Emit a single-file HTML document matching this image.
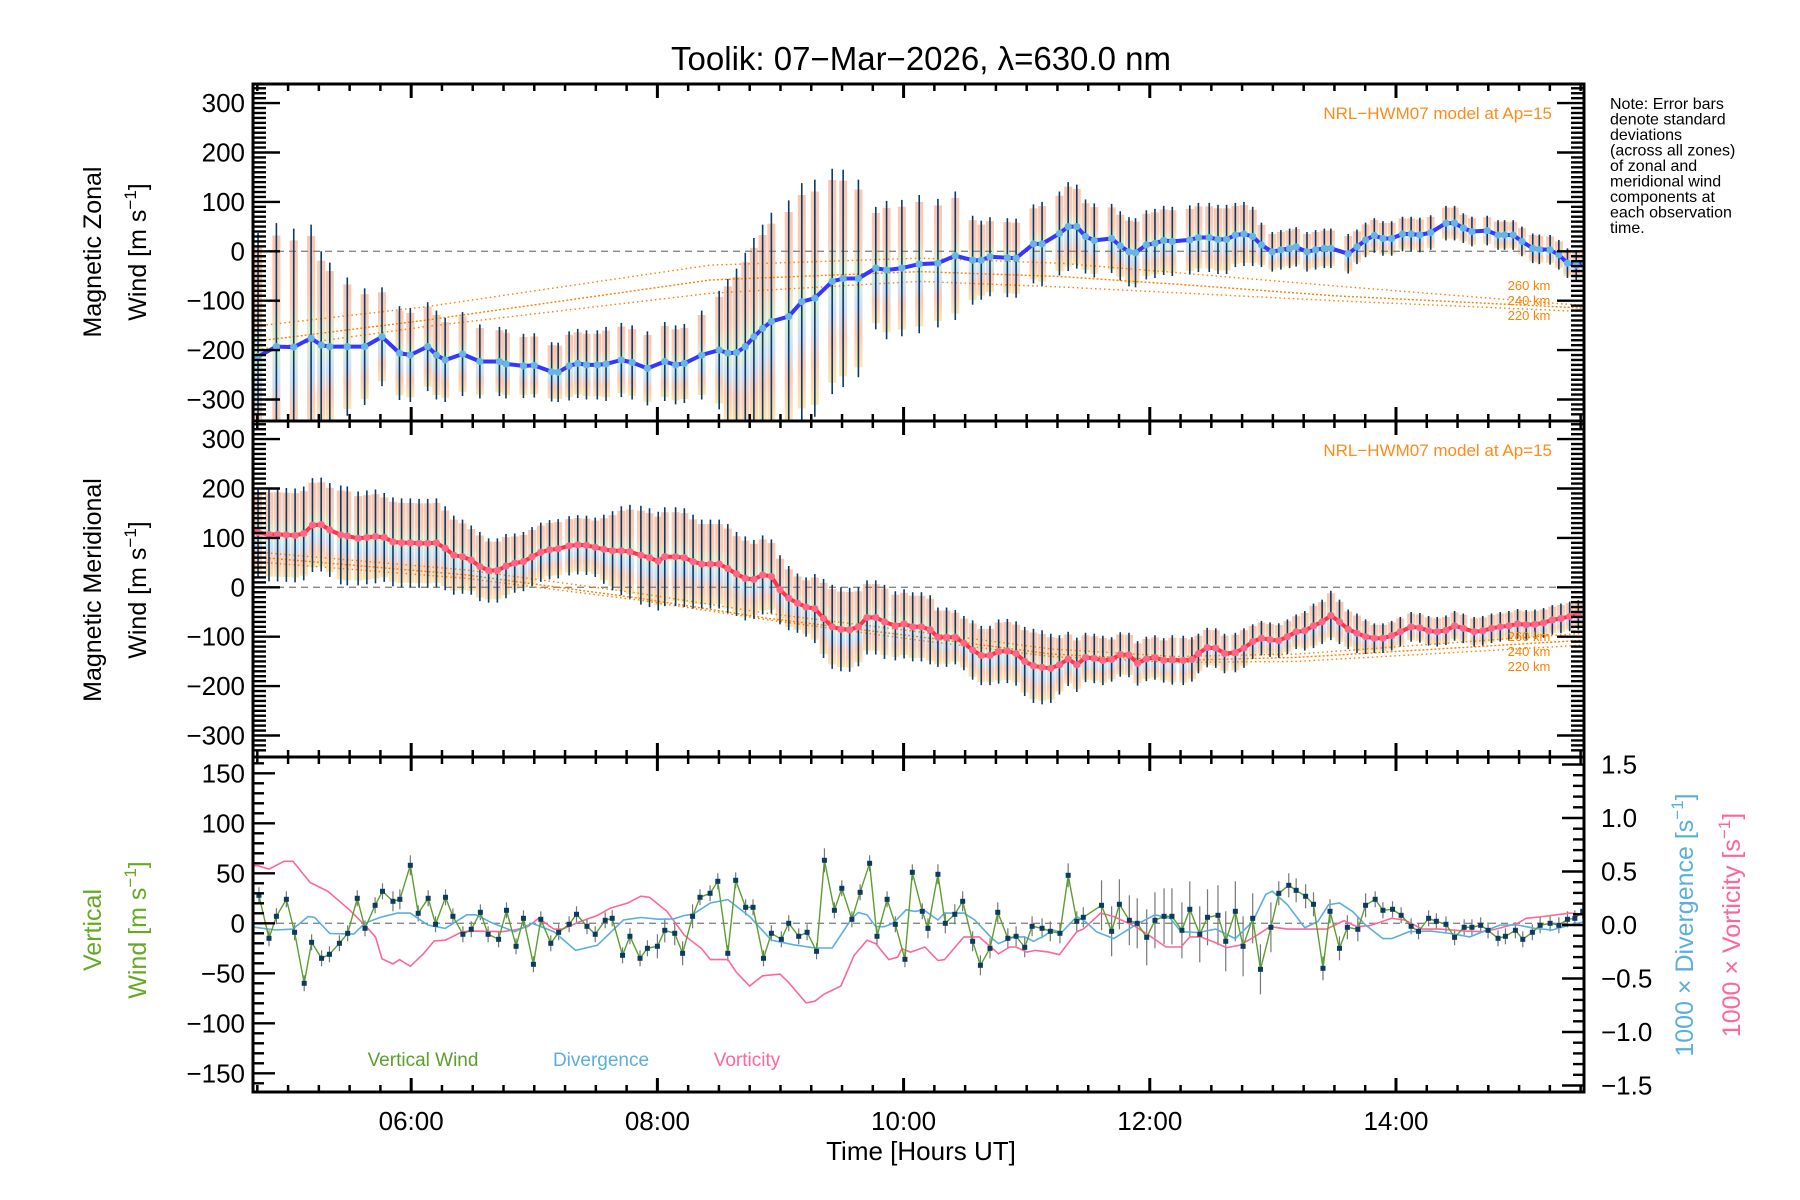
<!DOCTYPE html>
<html><head><meta charset="utf-8"><title>Toolik winds</title>
<style>
html,body{margin:0;padding:0;background:#fff;}
svg{display:block;font-family:"Liberation Sans",sans-serif;}
</style></head>
<body>
<svg id="chart" width="1800" height="1200" viewBox="0 0 1800 1200" xmlns="http://www.w3.org/2000/svg">
<defs>
<clipPath id="c1"><rect x="253" y="84" width="1331" height="337"/></clipPath>
<clipPath id="c2"><rect x="253" y="421" width="1331" height="336"/></clipPath>
<clipPath id="c3"><rect x="253" y="757" width="1331" height="335"/></clipPath>
<linearGradient id="pale" x1="0" y1="0" x2="0" y2="1">
<stop offset="0" stop-color="#f9c0a8"/><stop offset="0.3" stop-color="#fbc8ae"/><stop offset="0.5" stop-color="#d6f0c8"/><stop offset="0.65" stop-color="#c8dcf4"/><stop offset="0.8" stop-color="#fbc4aa"/><stop offset="1" stop-color="#fde2a6"/>
</linearGradient>
</defs>
<rect width="1800" height="1200" fill="#fff"/>
<text x="921" y="70" font-size="33" text-anchor="middle">Toolik: 07−Mar−2026, λ=630.0 nm</text>
<g id="marks"></g>
<g id="axes"></g>
<g font-size="16">
<text x="1610" y="109">Note: Error bars</text>
<text x="1610" y="124.5">denote standard</text>
<text x="1610" y="140">deviations</text>
<text x="1610" y="155.5">(across all zones)</text>
<text x="1610" y="171">of zonal and</text>
<text x="1610" y="186.5">meridional wind</text>
<text x="1610" y="202">components at</text>
<text x="1610" y="217.5">each observation</text>
<text x="1610" y="233">time.</text>
</g>
<text x="1552" y="119" font-size="17" fill="#ff8a1a" text-anchor="end">NRL−HWM07 model at Ap=15</text>
<text x="1552" y="456" font-size="17" fill="#ff8a1a" text-anchor="end">NRL−HWM07 model at Ap=15</text>
<g font-size="13" fill="#ff8000" text-anchor="middle">
<text x="1529" y="290">260 km</text><text x="1529" y="305">240 km</text><text x="1529" y="320">220 km</text></g>
<g font-size="13" fill="#ff8000" text-anchor="middle">
<text x="1529" y="641">260 km</text><text x="1529" y="656">240 km</text><text x="1529" y="671">220 km</text></g>
<text transform="translate(101,252) rotate(-90)" font-size="25" text-anchor="middle">Magnetic Zonal</text>
<text transform="translate(146,252) rotate(-90)" font-size="25" text-anchor="middle">Wind [m s<tspan dy="-10" font-size="17">−1</tspan><tspan dy="10">]</tspan></text>
<text transform="translate(101,590) rotate(-90)" font-size="25" text-anchor="middle">Magnetic Meridional</text>
<text transform="translate(146,590) rotate(-90)" font-size="25" text-anchor="middle">Wind [m s<tspan dy="-10" font-size="17">−1</tspan><tspan dy="10">]</tspan></text>
<text transform="translate(101,930) rotate(-90)" font-size="25" fill="#66aa22" text-anchor="middle">Vertical</text>
<text transform="translate(146,930) rotate(-90)" font-size="25" fill="#66aa22" text-anchor="middle">Wind [m s<tspan dy="-10" font-size="17">−1</tspan><tspan dy="10">]</tspan></text>
<text transform="translate(1693,925) rotate(-90)" font-size="25" fill="#5aafdf" text-anchor="middle">1000 × Divergence [s<tspan dy="-10" font-size="17">−1</tspan><tspan dy="10">]</tspan></text>
<text transform="translate(1740,925) rotate(-90)" font-size="25" fill="#ff6699" text-anchor="middle">1000 × Vorticity [s<tspan dy="-10" font-size="17">−1</tspan><tspan dy="10">]</tspan></text>
<text x="423" y="1066" font-size="19" fill="#5aa02c" text-anchor="middle">Vertical Wind</text>
<text x="601" y="1066" font-size="19" fill="#5aafdf" text-anchor="middle">Divergence</text>
<text x="747" y="1066" font-size="19" fill="#ff6699" text-anchor="middle">Vorticity</text>
<text x="921" y="1160" font-size="26" text-anchor="middle">Time [Hours UT]</text>
</svg>
<script>
// ---------------- data ----------------
const zonT = [4.686,4.756,4.905,5.046,5.187,5.269,5.339,5.481,5.622,5.763,5.905,5.993,6.134,6.205,6.276,6.417,6.558,6.717,6.770,6.912,7.0,7.141,7.194,7.283,7.353,7.424,7.512,7.583,7.707,7.795,7.919,8.060,8.148,8.219,8.360,8.502,8.572,8.643,8.714,8.784,8.855,8.926,9.067,9.173,9.279,9.420,9.509,9.633,9.774,9.862,9.986,10.127,
10.279,10.420,10.561,10.631,10.702,10.843,10.914,11.055,11.125,11.266,11.337,11.407,11.478,11.549,11.690,11.760,11.831,11.884,11.972,12.042,12.113,12.183,12.325,12.395,12.483,12.554,12.624,12.695,12.765,12.836,12.907,12.995,13.065,13.136,13.189,13.277,13.347,13.418,13.471,13.612,13.683,13.753,13.824,13.894,13.965,14.053,14.123,14.194,14.282,14.406,14.476,14.547,14.617,14.741,14.829,14.882,14.952,15.023,15.111,15.164,15.252,15.323,15.393,15.464,15.534];
const zonV = [-212,-213,-193,-194,-176,-190,-193,-193,-193,-173,-206,-210,-193,-210,-220,-208,-223,-223,-228,-232,-231,-244,-245,-232,-227,-230,-230,-228,-220,-225,-237,-223,-230,-227,-210,-200,-206,-205,-193,-173,-156,-142,-132,-102,-95,-61,-55,-55,-34,-38,-34,-26,
-24,-9,-18,-18,-11,-13,-14,15,15,36,50,50,30,22,26,11,-1,-3,13,16,22,20,23,28,28,24,24,33,35,30,13,-1,3,6,9,-1,3,6,6,-5,9,23,32,26,26,35,35,33,38,57,57,47,40,42,33,33,33,20,6,4,3,-7,-24,-28,-23];
const zonSig = [250,250,250,240,230,190,170,140,118,100,95,95,90,90,85,85,75,70,70,65,65,60,60,70,70,70,70,75,75,75,75,80,80,80,90,120,150,170,190,200,210,220,235,240,240,228,220,200,124,140,138,140,
130,130,90,80,80,80,80,80,85,85,90,85,75,75,70,70,70,70,70,70,70,70,70,70,70,70,70,65,65,60,45,40,40,40,40,40,40,40,40,40,35,35,35,35,35,35,35,35,35,35,35,30,30,30,30,30,30,30,30,30,30,30,30,30,30];

const merT = [4.686,4.756,4.845,4.915,4.986,5.057,5.127,5.198,5.269,5.339,5.428,5.481,5.569,5.640,5.710,5.781,5.852,5.922,5.993,6.064,6.134,6.205,6.276,6.346,6.417,6.488,6.558,6.629,6.700,6.770,6.841,6.912,6.982,7.053,7.124,7.194,7.283,7.353,7.424,7.495,7.565,7.636,7.707,7.777,7.866,7.936,8.007,8.060,8.148,8.219,8.290,8.360,8.431,8.502,8.572,8.643,8.714,8.784,8.855,8.926,8.996,9.067,9.138,9.208,9.279,9.350,9.420,9.491,9.562,9.633,9.703,9.774,9.845,9.933,10.004,10.074,10.145,10.216,
10.279,10.349,10.420,10.490,10.561,10.631,10.702,10.772,10.843,10.914,10.984,11.055,11.125,11.196,11.266,11.337,11.407,11.478,11.549,11.619,11.690,11.760,11.831,11.901,11.972,12.042,12.113,12.183,12.272,12.342,12.395,12.466,12.536,12.607,12.695,12.765,12.836,12.907,12.977,13.048,13.118,13.189,13.259,13.330,13.400,13.471,13.541,13.612,13.683,13.753,13.824,13.894,13.965,14.035,14.123,14.194,14.265,14.335,14.406,14.476,14.547,14.635,14.705,14.776,14.847,14.917,14.988,15.058,15.129,15.199,15.270,15.340,15.411,15.481];
const merV = [116,111,107,107,106,105,109,126,127,116,106,104,99,101,103,101,92,90,90,89,89,90,79,65,62,55,42,34,34,43,49,52,62,71,76,78,84,86,85,81,77,74,74,72,65,60,53,62,62,60,52,47,47,47,38,27,18,16,25,22,-5,-22,-32,-40,-43,-63,-80,-85,-86,-80,-61,-61,-70,-78,-74,-80,-80,-86,
-101,-101,-101,-113,-127,-138,-138,-130,-129,-134,-150,-159,-162,-164,-157,-145,-157,-142,-144,-148,-146,-136,-137,-154,-145,-142,-148,-147,-148,-146,-134,-122,-123,-134,-132,-123,-110,-103,-106,-108,-100,-90,-88,-78,-70,-57,-70,-85,-93,-100,-103,-103,-98,-90,-80,-82,-88,-90,-87,-78,-83,-90,-88,-83,-80,-78,-74,-76,-75,-72,-66,-63,-59,-56];
const merSig = [90,90,95,95,95,95,95,95,95,95,100,100,95,95,95,90,90,90,90,90,90,90,
85,80,75,70,70,65,65,65,60,60,60,60,60,
60,60,60,60,60,70,80,90,95,100,100,100,100,100,100,95,90,90,90,90,85,85,80,80,75,
70,65,60,60,70,80,85,85,85,80,75,75,75,70,70,70,70,70,
60,60,55,55,60,60,60,65,65,65,70,75,75,70,60,55,55,50,50,50,45,45,45,45,45,45,45,50,50,45,
40,40,40,40,40,40,35,35,35,35,35,35,40,45,45,50,45,40,40,35,
30,30,30,30,30,30,30,30,30,30,30,30,30,30,30,30,30,30,30,30,30,30,30,30];

// HWM07 model curves (m/s)
const modZT = [4.715,6.13,8.43,10.13,11.27,12.3,13.5,15.53];
const modZ260 = [-152,-112,-28,-14,-24,-45,-70,-110];
const modZ240 = [-183,-139,-58,-41,-51,-68,-90,-115];
const modZ220 = [-200,-152,-85,-61,-72,-85,-100,-122];
const modMT = [4.715,6.45,7.85,8.9,10.12,11.2,12.2,13.2,15.53];
const modM260 = [72,35,-12,-53,-90,-125,-140,-135,-93];
const modM240 = [62,25,-22,-63,-100,-135,-148,-142,-107];
const modM220 = [52,18,-26,-66,-107,-140,-152,-150,-117];

const vertT = [4.763,4.845,4.905,4.986,5.053,5.131,5.191,5.272,5.336,5.417,5.484,5.562,5.625,5.707,5.767,5.852,5.908,5.993,6.057,6.138,6.198,6.279,6.339,6.420,6.488,6.562,6.625,6.710,6.774,6.852,6.912,6.993,7.053,7.134,7.198,7.283,7.343,7.428,7.495,7.576,7.633,7.717,7.777,7.859,7.919,8.000,8.060,8.141,8.205,8.286,8.346,8.428,8.491,8.572,8.636,8.717,8.777,8.862,8.926,9.007,9.067,9.148,9.216,9.293,9.357,9.438,9.498,9.580,9.647,9.724,9.784,9.866,9.933,10.011,10.071,10.152,
10.198,10.279,10.339,10.416,10.480,10.561,10.624,10.702,10.765,10.847,10.914,10.984,11.044,11.125,11.192,11.270,11.337,11.407,11.460,11.608,11.690,11.753,11.834,11.898,11.975,12.042,12.116,12.180,12.261,12.325,12.406,12.469,12.554,12.617,12.695,12.758,12.836,12.899,12.984,13.048,13.129,13.189,13.266,13.330,13.407,13.464,13.541,13.605,13.690,13.753,13.831,13.894,13.972,14.042,14.123,14.183,14.265,14.328,14.406,14.476,14.554,14.617,14.688,14.748,14.829,14.889,14.970,15.030,15.108,15.171,15.252,15.323,15.393,15.453,15.517];
const vertV = [28,-15,7,24,-9,-60,-19,-35,-31,-20,-10,25,-5,18,32,22,24,58,10,25,-1,26,7,-11,-6,11,-11,-16,13,-23,5,-41,4,-20,-9,-1,9,-3,-11,3,5,-32,-13,-35,-25,-23,-7,-10,-30,7,26,30,42,-30,43,16,16,-35,-10,-16,0,-13,-9,-28,63,13,35,4,31,60,-13,24,-1,-36,51,12,
-5,49,0,9,22,-18,-42,-25,11,-15,-13,-24,-3,-5,-8,-10,48,2,6,18,-8,19,3,0,-14,3,7,7,-7,14,-11,6,8,-18,12,-23,5,-46,-4,30,38,33,27,19,-45,12,-25,-4,-6,18,24,13,14,8,-3,-8,5,2,-1,-14,-4,-4,-2,-7,-15,-13,-7,-16,-9,-2,0,-2,4,5,12];
const vertErr = [8,8,8,8,8,8,8,8,8,8,8,8,8,8,8,10,10,10,8,8,8,8,8,8,8,8,8,8,8,8,8,8,8,8,8,8,8,8,8,8,8,8,8,8,8,12,12,12,12,12,8,8,8,8,8,8,8,8,8,8,8,8,8,8,12,8,8,8,8,8,8,8,8,8,8,8,
10,10,10,10,10,10,10,10,10,10,10,10,10,10,10,10,12,10,10,25,25,25,25,25,28,28,28,28,28,28,28,28,30,30,30,30,25,25,25,12,12,12,12,12,12,12,12,12,12,12,8,8,8,8,8,8,8,8,8,8,8,8,8,8,8,8,8,8,8,8,8,8,8,8,8];

// 1000 x divergence and vorticity (s^-1)
const divT = [4.686,4.756,4.898,5.039,5.163,5.216,5.339,5.534,5.622,5.746,5.887,5.993,6.134,6.276,6.452,6.523,6.664,6.841,6.982,7.159,7.336,7.512,7.724,7.866,8.007,8.131,8.219,8.290,8.431,8.572,8.749,8.926,9.102,9.279,9.420,9.580,9.633,9.703,9.774,9.845,9.915,10.021,10.092,10.163,
10.279,10.332,10.490,10.578,10.720,10.772,10.896,10.984,11.055,11.143,11.213,11.284,11.407,11.478,11.566,11.707,11.884,12.042,12.166,12.254,12.395,12.536,12.695,12.836,12.942,12.995,13.118,13.259,13.365,13.453,13.541,13.647,13.753,13.894,13.965,14.106,14.282,14.441,14.600,14.705,14.847,14.988,15.129,15.270,15.411,15.534];
const divV = [-0.016,-0.025,-0.047,-0.038,0.079,0.070,-0.079,-0.085,0.016,0.070,0.111,0.111,0,-0.032,0.095,0.095,0.016,-0.063,0.016,-0.063,-0.237,-0.190,0.047,0.070,0.054,0.057,0.089,0.101,0.206,0.237,0.079,-0.142,-0.184,-0.215,-0.215,0.063,0.117,0.095,-0.016,-0.016,0.016,0.142,0.127,0.142,
0.047,0.111,0.111,0.047,-0.127,-0.174,-0.111,-0.111,-0.152,-0.101,-0.047,-0.070,0.079,0.032,-0.063,-0.127,0,0.095,0.063,-0.063,-0.070,-0.038,-0.127,0.032,0.285,0.316,0.190,-0.025,0.032,0.190,0.206,0.127,0,-0.127,-0.127,-0.063,-0.057,-0.079,-0.111,-0.063,0,0,-0.032,-0.047,0,0.032];
const vorT = [4.686,4.756,4.845,4.968,5.039,5.180,5.322,5.498,5.622,5.710,5.763,5.852,5.905,5.993,6.099,6.187,6.276,6.417,6.523,6.735,6.841,6.947,7.035,7.159,7.230,7.371,7.512,7.618,7.760,7.866,7.936,8.078,8.219,8.360,8.431,8.572,8.643,8.749,8.855,8.996,9.067,9.208,9.279,9.350,9.491,9.597,9.703,9.774,9.880,9.951,9.986,10.057,
10.173,10.279,10.332,10.490,10.614,10.772,10.861,10.914,11.002,11.072,11.178,11.266,11.407,11.460,11.601,11.707,11.884,11.972,12.131,12.254,12.325,12.413,12.519,12.624,12.730,12.871,12.977,13.118,13.436,13.577,13.683,13.788,13.965,14.071,14.212,14.353,14.564,14.705,14.811,14.988,15.058,15.199,15.411,15.534];
const vorV = [0.554,0.554,0.522,0.595,0.595,0.396,0.316,0.142,0,-0.111,-0.316,-0.364,-0.323,-0.386,-0.269,-0.149,-0.142,-0.063,-0.057,-0.063,-0.047,-0.016,0.063,-0.038,-0.038,0.032,0.089,0.158,0.206,0.269,0.259,0.127,-0.095,-0.222,-0.323,-0.323,-0.443,-0.570,-0.475,-0.459,-0.538,-0.728,-0.712,-0.649,-0.570,-0.285,-0.142,-0.174,-0.323,-0.301,-0.222,-0.253,
-0.206,-0.332,-0.323,-0.111,-0.111,-0.269,-0.206,-0.206,-0.253,-0.237,-0.253,-0.278,-0.063,-0.038,0.111,0.079,-0.016,-0.079,-0.206,-0.206,-0.111,-0.111,-0.158,-0.212,-0.190,-0.095,-0.016,-0.038,-0.038,0.041,-0.016,-0.006,0.063,0.047,-0.038,-0.038,-0.057,-0.063,-0.038,0.016,0.063,0.079,0.111,0.101];

const yTicks12 = [300,200,100,0,-100,-200,-300];
const yTicks3 = [150,100,50,0,-50,-100,-150];
const rTicks3 = [1.5,1.0,0.5,0.0,-0.5,-1.0,-1.5];
const xTickHours = [6,8,10,12,14];
const xTickLabels = ['06:00','08:00','10:00','12:00','14:00'];

// ---------------- scales ----------------
const X0 = 253, X1 = 1584, H0 = 4.715, PXH = 123.1;
function xs(h){ return X0 + (h - H0) * PXH; }
function y1(v){ return 251.3 - 0.494 * v; }
function y2(v){ return 587.3 - 0.494 * v; }
function y3(v){ return 923.3 - 1.0 * v; }
function y3r(r){ return 925 - 107 * r; }
const P = [{top:84,bot:421},{top:421,bot:757},{top:757,bot:1092}];

const NS = 'http://www.w3.org/2000/svg';
function mk(tag, attrs, parent){
  const e = document.createElementNS(NS, tag);
  for (const k in attrs) e.setAttribute(k, attrs[k]);
  parent.appendChild(e);
  return e;
}
const marks = document.getElementById('marks');
const axes = document.getElementById('axes');

function path(ts, vs, yf){
  let d = '';
  for (let i = 0; i < ts.length; i++) d += (i ? 'L' : 'M') + xs(ts[i]).toFixed(1) + ' ' + yf(vs[i]).toFixed(1);
  return d;
}

// ---------------- wind panels ----------------
function windPanel(clip, ts, vs, sig, yf, lineCol, dotCol, mT, m260, m240, m220, key){
  const g = mk('g', {'clip-path': 'url(#' + clip + ')'}, marks);
  
  
  for (let i = 0; i < ts.length; i++) {
    const r = mk('rect', {x: xs(ts[i]) - 4, y: yf(vs[i] + sig[i] * 0.9), width: 8, height: Math.abs(yf(vs[i] - sig[i] * 0.9) - yf(vs[i] + sig[i] * 0.9)), fill: 'url(#pale)', opacity: 0.9}, g);
    
    
  }
  const zl = mk('line', {x1: X0, x2: X1, y1: yf(0), y2: yf(0), stroke: '#888', 'stroke-width': 1.3, 'stroke-dasharray': '7,5'}, g);
  
  
  const mods = [m260, m240, m220];
  const names = ['260', '240', '220'];
  for (let k = 0; k < 3; k++) {
    const m = mk('path', {d: path(mT, mods[k], yf), fill: 'none', stroke: '#ff8000', 'stroke-width': 1.4, 'stroke-dasharray': k === 1 ? '2,2' : '1.5,3'}, g);
    
    
  }
  for (let i = 0; i < ts.length; i++) {
    const e = mk('line', {x1: xs(ts[i]), x2: xs(ts[i]), y1: yf(vs[i] + sig[i]), y2: yf(vs[i] - sig[i]), stroke: '#0a3a66', 'stroke-width': 1.6}, g);
    
    
  }
  const ln = mk('path', {d: path(ts, vs, yf), fill: 'none', stroke: lineCol, 'stroke-width': 4, 'stroke-linejoin': 'round'}, g);
  
  
  for (let i = 0; i < ts.length; i++) {
    const c = mk('circle', {cx: xs(ts[i]), cy: yf(vs[i]), r: 3.6, fill: dotCol}, g);
    
    
  }
}
windPanel('c1', zonT, zonV, zonSig, y1, '#3438ff', '#68b4e4', modZT, modZ260, modZ240, modZ220, 'zonal');
windPanel('c2', merT, merV, merSig, y2, '#ff3344', '#ff6688', modMT, modM260, modM240, modM220, 'meridional');

// ---------------- vertical panel ----------------
const g3 = mk('g', {'clip-path': 'url(#c3)'}, marks);


const z3 = mk('line', {x1: X0, x2: X1, y1: y3(0), y2: y3(0), stroke: '#888', 'stroke-width': 1.3, 'stroke-dasharray': '7,5'}, g3);


for (let i = 0; i < vertT.length; i++) {
  const e = mk('line', {x1: xs(vertT[i]), x2: xs(vertT[i]), y1: y3(vertV[i] + vertErr[i]), y2: y3(vertV[i] - vertErr[i]), stroke: '#777', 'stroke-width': 1.2}, g3);
  
  
}
const vd = mk('path', {d: path(vorT, vorV, y3r), fill: 'none', stroke: '#ff6699', 'stroke-width': 1.6}, g3);


const dd = mk('path', {d: path(divT, divV, y3r), fill: 'none', stroke: '#5aafdf', 'stroke-width': 1.6}, g3);


const vl = mk('path', {d: path(vertT, vertV, y3), fill: 'none', stroke: '#5aa02c', 'stroke-width': 1.4}, g3);


for (let i = 0; i < vertT.length; i++) {
  const s = mk('rect', {x: xs(vertT[i]) - 2.5, y: y3(vertV[i]) - 2.5, width: 5, height: 5, fill: '#0b3b60'}, g3);
  
  
}

// ---------------- axes ----------------
function tickLine(x1, y1_, x2, y2_, w, name){
  const t = mk('line', {x1: x1, y1: y1_, x2: x2, y2: y2_, stroke: '#000', 'stroke-width': w}, axes);
  
  
}
function label(x, y, txt, anchor, size, name){
  const t = mk('text', {x: x, y: y, 'text-anchor': anchor, 'font-size': size}, axes);
  t.textContent = txt;
  
  
}
for (let p = 0; p < 3; p++) {
  const b = mk('rect', {x: X0, y: P[p].top, width: X1 - X0, height: P[p].bot - P[p].top, fill: 'none', stroke: '#000', 'stroke-width': 3}, axes);
  
  
  for (let h = 4.75; h <= 15.5; h += 0.25) {
    const x = xs(h);
    if (x < X0 || x > X1) continue;
    const maj = Math.abs(h - Math.round(h)) < 1e-6 && Math.round(h) % 2 === 0;
    const L = maj ? 14 : 7;
    tickLine(x, P[p].bot, x, P[p].bot - L, maj ? 3 : 2.5, 'x-tick');
    tickLine(x, P[p].top, x, P[p].top + L, maj ? 3 : 2.5, 'x-tick');
  }
}
[[y1, 0], [y2, 1]].forEach(function(pp){
  const yf = pp[0], p = pp[1];
  for (let v = -340; v <= 340; v += 10) {
    const y = yf(v);
    if (y < P[p].top + 2 || y > P[p].bot - 2) continue;
    const maj = v % 100 === 0;
    const L = maj ? 27 : 13;
    tickLine(X0, y, X0 + L, y, 2.4, 'y-tick');
    tickLine(X1, y, X1 - L, y, 2.4, 'y-tick');
  }
  yTicks12.forEach(function(v){ label(245, yf(v) + 9, (v < 0 ? '−' + (-v) : '' + v), 'end', 26, 'y-tick-label'); });
});
for (let v = -160; v <= 160; v += 10) {
  const y = y3(v);
  const maj = v % 50 === 0;
  tickLine(X0, y, X0 + (maj ? 22 : 11), y, 2.4, 'y-tick');
}
yTicks3.forEach(function(v){ label(245, y3(v) + 9, (v < 0 ? '−' + (-v) : '' + v), 'end', 26, 'y-tick-label'); });
for (let k = -15; k <= 15; k++) {
  const r = k / 10;
  const y = y3r(r);
  const maj = k % 5 === 0;
  tickLine(X1, y, X1 - (maj ? 22 : 11), y, 2.4, 'right-y-tick');
}
rTicks3.forEach(function(r){ label(1601, y3r(r) + 9, (r < 0 ? '−' + (-r).toFixed(1) : r.toFixed(1)), 'start', 26, 'right-y-tick-label'); });
xTickHours.forEach(function(h, i){ label(xs(h), 1130, xTickLabels[i], 'middle', 26, 'x-tick-label'); });
</script>
</body></html>
